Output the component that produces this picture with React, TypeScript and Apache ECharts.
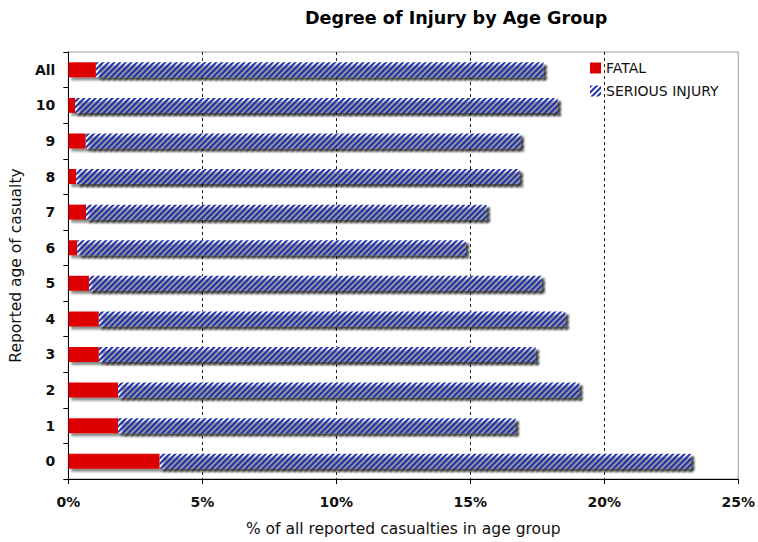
import React, { useEffect, useRef } from "react";
import * as echarts from "echarts";

const categories = ["0", "1", "2", "3", "4", "5", "6", "7", "8", "9", "10", "All"];
const fatal = [3.41, 1.86, 1.86, 1.14, 1.14, 0.77, 0.33, 0.66, 0.29, 0.65, 0.25, 1.03];
const serious = [19.83, 14.83, 17.21, 16.3, 17.41, 16.89, 14.5, 14.95, 16.55, 16.23, 18.01, 16.7];
const seriesNames = ["FATAL", "SERIOUS INJURY"];
const titleText = "Degree of Injury by Age Group";
const xAxisName = "% of all reported casualties in age group";
const yAxisName = "Reported age of casualty";

const FONT = "'DejaVu Sans', Verdana, sans-serif";

export default function App() {
  const ref = useRef<HTMLDivElement>(null);
  useEffect(() => {
    if (!ref.current) return;
    const chart = echarts.init(ref.current, null, { renderer: "svg" });
    const shadow = {
      shadowColor: "rgba(0,0,0,0.45)",
      shadowBlur: 2,
      shadowOffsetX: 3,
      shadowOffsetY: 3,
    };
    chart.setOption({
      animation: false,
      backgroundColor: "#ffffff",
      title: {
        text: titleText,
        left: 305,
        top: 9,
        padding: 0,
        textStyle: { fontFamily: FONT, fontSize: 17.6, fontWeight: "bold", color: "#000" },
      },
      legend: {
        orient: "vertical",
        left: 590,
        top: 61,
        padding: 0,
        icon: "rect",
        itemWidth: 11,
        itemHeight: 11,
        itemGap: 9,
        itemStyle: { shadowBlur: 0, shadowOffsetX: 0, shadowOffsetY: 0, shadowColor: "transparent" },
        textStyle: { fontFamily: FONT, fontSize: 14, color: "#111" },
        data: seriesNames,
      },
      grid: {
        left: 68,
        right: 18,
        top: 52,
        bottom: 60,
        show: true,
        borderColor: "#9a9a9a",
        borderWidth: 1,
      },
      xAxis: {
        type: "value",
        min: 0,
        max: 25,
        interval: 5,
        name: xAxisName,
        nameLocation: "middle",
        nameGap: 42,
        nameTextStyle: { fontFamily: FONT, fontSize: 15.5, color: "#111" },
        axisLine: { show: true, lineStyle: { color: "#000", width: 1 } },
        axisTick: { show: true, length: 5, lineStyle: { color: "#000" } },
        axisLabel: {
          formatter: "{value}%",
          margin: 16,
          fontFamily: FONT,
          fontSize: 14,
          fontWeight: "bold",
          color: "#111",
        },
        splitLine: {
          show: true,
          showMinLine: false,
          showMaxLine: false,
          lineStyle: { color: "#222", type: [3, 3], width: 1 },
        },
      },
      yAxis: {
        type: "category",
        data: categories,
        name: yAxisName,
        nameLocation: "middle",
        nameRotate: 90,
        nameGap: 41,
        nameTextStyle: { fontFamily: FONT, fontSize: 15.5, color: "#111" },
        axisLine: { show: true, lineStyle: { color: "#000", width: 1 } },
        axisTick: { show: true, length: 5, alignWithLabel: false, lineStyle: { color: "#000" } },
        axisLabel: {
          margin: 13,
          fontFamily: FONT,
          fontSize: 14,
          fontWeight: "bold",
          color: "#111",
        },
        splitLine: { show: false },
      },
      series: [
        {
          name: seriesNames[0],
          type: "bar",
          stack: "total",
          barWidth: 15,
          data: fatal,
          itemStyle: { color: "#dd0000", ...shadow },
        },
        {
          name: seriesNames[1],
          type: "bar",
          stack: "total",
          barWidth: 15,
          data: serious,
          itemStyle: {
            color: "#ffffff",
            ...shadow,
            decal: {
              symbol: "rect",
              symbolSize: 1,
              color: "#2030a8",
              dashArrayX: [1, 0],
              dashArrayY: [1.3, 1.7],
              rotation: -Math.PI / 4,
            },
          },
        },
      ],
    });
    return () => chart.dispose();
  }, []);
  return (
    <div
      ref={ref}
      style={{ position: "fixed", left: 0, top: 0, width: 758, height: 542 }}
    />
  );
}
